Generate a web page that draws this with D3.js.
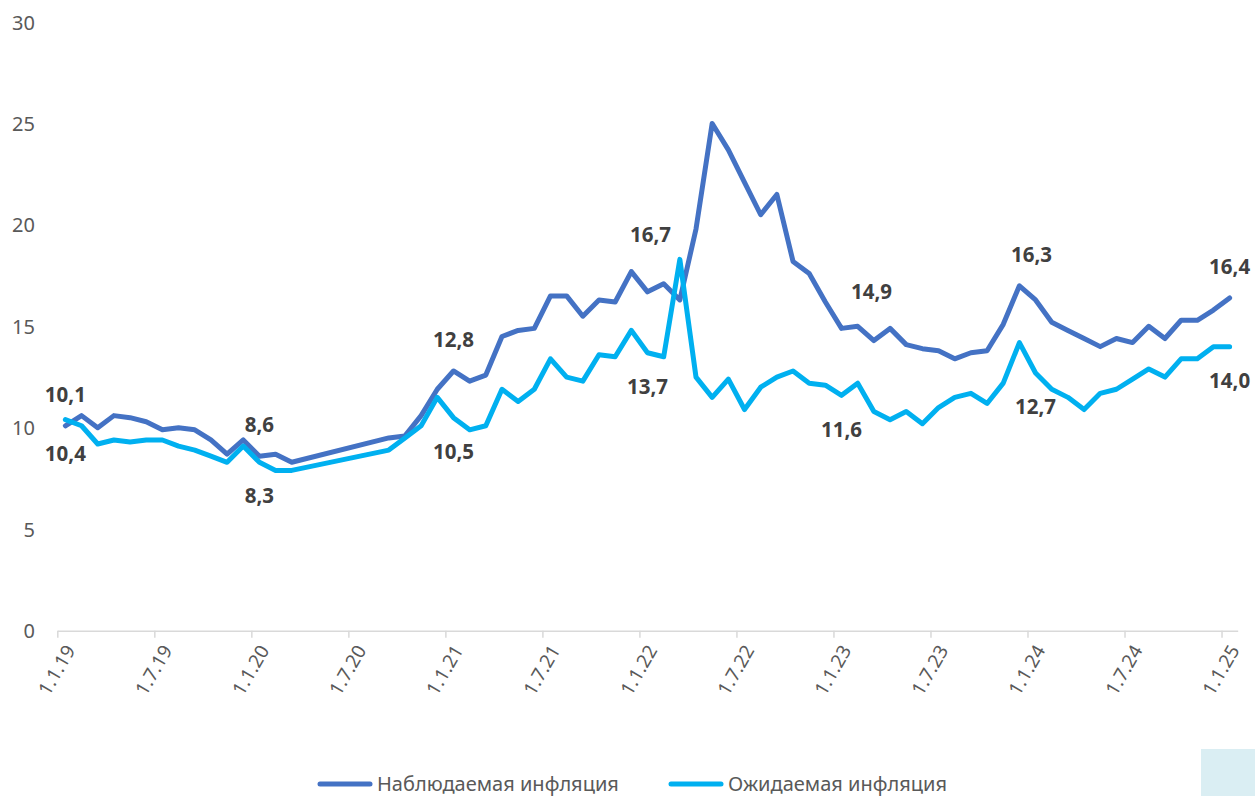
<!DOCTYPE html>
<html>
  <head>
    <meta charset="utf-8">
    <title> Инфляция </title>
    <script src="https://d3js.org/d3.v7.min.js"></script>
    <style>
      body { margin: 0; background: #fff; }
      text { font-family: "Noto Sans", Arial, sans-serif; }
      .ylab text { fill: #595959; font-size: 20px; }
      .xlab text { fill: #595959; font-size: 19px; }
      .lbl { fill: #404040; font-size: 20.5px; font-weight: bold; }
      .leg { fill: #595959; font-size: 20px; }
    </style>
  </head>
  <body>
    <svg id="main" width="1255" height="796"></svg>
    <script>

      // monthly, 1.1.19 ... 1.1.25 (73 months)
      var tickLabels = ['1.1.19', '1.7.19', '1.1.20', '1.7.20', '1.1.21', '1.7.21', '1.1.22',
                        '1.7.22', '1.1.23', '1.7.23', '1.1.24', '1.7.24', '1.1.25'];
      var yTicks = [0, 5, 10, 15, 20, 25, 30];
      var seriesNames = ['Наблюдаемая инфляция', 'Ожидаемая инфляция'];

      // null = no survey that month, line joins across
      var observed = [
        10.1, 10.6, 10.0, 10.6, 10.5, 10.3, 9.9, 10.0, 9.9, 9.4, 8.7, 9.4,
        8.6, 8.7, 8.3, null, null, null, null, null, 9.5, 9.6, 10.6, 11.9,
        12.8, 12.3, 12.6, 14.5, 14.8, 14.9, 16.5, 16.5, 15.5, 16.3, 16.2, 17.7,
        16.7, 17.1, 16.3, 19.8, 25.0, 23.7, 22.1, 20.5, 21.5, 18.2, 17.6, 16.2,
        14.9, 15.0, 14.3, 14.9, 14.1, 13.9, 13.8, 13.4, 13.7, 13.8, 15.1, 17.0,
        16.3, 15.2, 14.8, 14.4, 14.0, 14.4, 14.2, 15.0, 14.4, 15.3, 15.3, 15.8,
        16.4
      ];
      var expected = [
        10.4, 10.1, 9.2, 9.4, 9.3, 9.4, 9.4, 9.1, 8.9, 8.6, 8.3, 9.1,
        8.3, 7.9, 7.9, null, null, null, null, null, 8.9, 9.5, 10.1, 11.5,
        10.5, 9.9, 10.1, 11.9, 11.3, 11.9, 13.4, 12.5, 12.3, 13.6, 13.5, 14.8,
        13.7, 13.5, 18.3, 12.5, 11.5, 12.4, 10.9, 12.0, 12.5, 12.8, 12.2, 12.1,
        11.6, 12.2, 10.8, 10.4, 10.8, 10.2, 11.0, 11.5, 11.7, 11.2, 12.2, 14.2,
        12.7, 11.9, 11.5, 10.9, 11.7, 11.9, 12.4, 12.9, 12.5, 13.4, 13.4, 14.0,
        14.0
      ];

      // which points carry a value label: [series, month index]
      var labelPoints = [[0, 0], [1, 0], [0, 12], [1, 12], [0, 24], [1, 24], [0, 36], [1, 36],
                         [0, 48], [1, 48], [0, 60], [1, 60], [0, 72], [1, 72]];

      var colors = ['#4472c4', '#00b0f0'];
      var LINE_W = 5;

      var svg = d3.select('#main');
      var n = observed.length;

      var x = d3.scaleLinear().domain([0, n]).range([57.3, 1237.7]);
      var y = d3.scaleLinear().domain([0, 30]).range([630.7, 22]);

      // y labels only, no axis line
      var yAxis = d3.axisLeft(y).tickValues(yTicks).tickSize(0).tickPadding(0);
      var gy = svg.append('g').attr('class', 'ylab').attr('transform', 'translate(35,0)').call(yAxis);
      gy.select('.domain').remove();
      gy.selectAll('text').attr('dy', '0.35em');

      // x axis: ticks at start of each half-year
      var xAxis = d3.axisBottom(x)
        .tickValues(d3.range(0, n, 6))
        .tickFormat(function(d, i) { return tickLabels[i]; })
        .tickSizeInner(7).tickSizeOuter(0).tickPadding(0);
      var gx = svg.append('g').attr('class', 'xlab').attr('transform', 'translate(0,' + y(0) + ')').call(xAxis);
      gx.select('.domain').attr('stroke', '#d9d9d9').attr('stroke-width', 1.5);
      gx.selectAll('.tick line').attr('stroke', '#d9d9d9').attr('stroke-width', 1.5);
      gx.selectAll('.tick text')
        .attr('text-anchor', 'end')
        .attr('dy', null)
        .attr('transform', 'translate(12,16) rotate(-60)')
        .attr('y', 0)
        .attr('dominant-baseline', 'central');

      var line = d3.line()
        .x(function(d) { return x(d.i + 0.5); })
        .y(function(d) { return y(d.v); });

      [observed, expected].forEach(function(s, k) {
        var pts = [];
        s.forEach(function(v, i) { if (v != null) pts.push({i: i, v: v}); });
        svg.append('path')
          .datum(pts)
          .attr('d', line)
          .attr('fill', 'none')
          .attr('stroke', colors[k])
          .attr('stroke-width', LINE_W)
          .attr('stroke-linejoin', 'round')
          .attr('stroke-linecap', 'round');
      });

      // label offsets (some were moved by hand in the original)
      var labelShift = {'0-36': [3, -57], '0-48': [30, -37], '0-60': [-4, -45]};
      var fmt = function(v) { return d3.format('.1f')(v).replace('.', ','); };

      labelPoints.forEach(function(p) {
        var s = p[0] ? expected : observed;
        var v = s[p[1]];
        var sh = labelShift[p[0] + '-' + p[1]] || [0, p[0] ? 34 : -31];
        svg.append('text')
          .attr('class', 'lbl')
          .attr('x', x(p[1] + 0.5) + sh[0])
          .attr('y', y(v) + sh[1])
          .attr('dy', '0.35em')
          .attr('text-anchor', 'middle')
          .text(fmt(v));
      });

      // legend
      var legX = [318, 669];
      seriesNames.forEach(function(name, k) {
        var g = svg.append('g').attr('transform', 'translate(' + legX[k] + ',784)');
        g.append('line').attr('x1', 2).attr('x2', 52).attr('y1', 0).attr('y2', 0)
          .attr('stroke', colors[k]).attr('stroke-width', LINE_W).attr('stroke-linecap', 'round');
        g.append('text').attr('class', 'leg').attr('x', 59).attr('dy', '0.33em').text(name);
      });

      svg.append('rect').attr('x', 1201).attr('y', 749).attr('width', 54).attr('height', 47)
        .attr('fill', '#daeef3');

    </script>
  </body>
</html>
